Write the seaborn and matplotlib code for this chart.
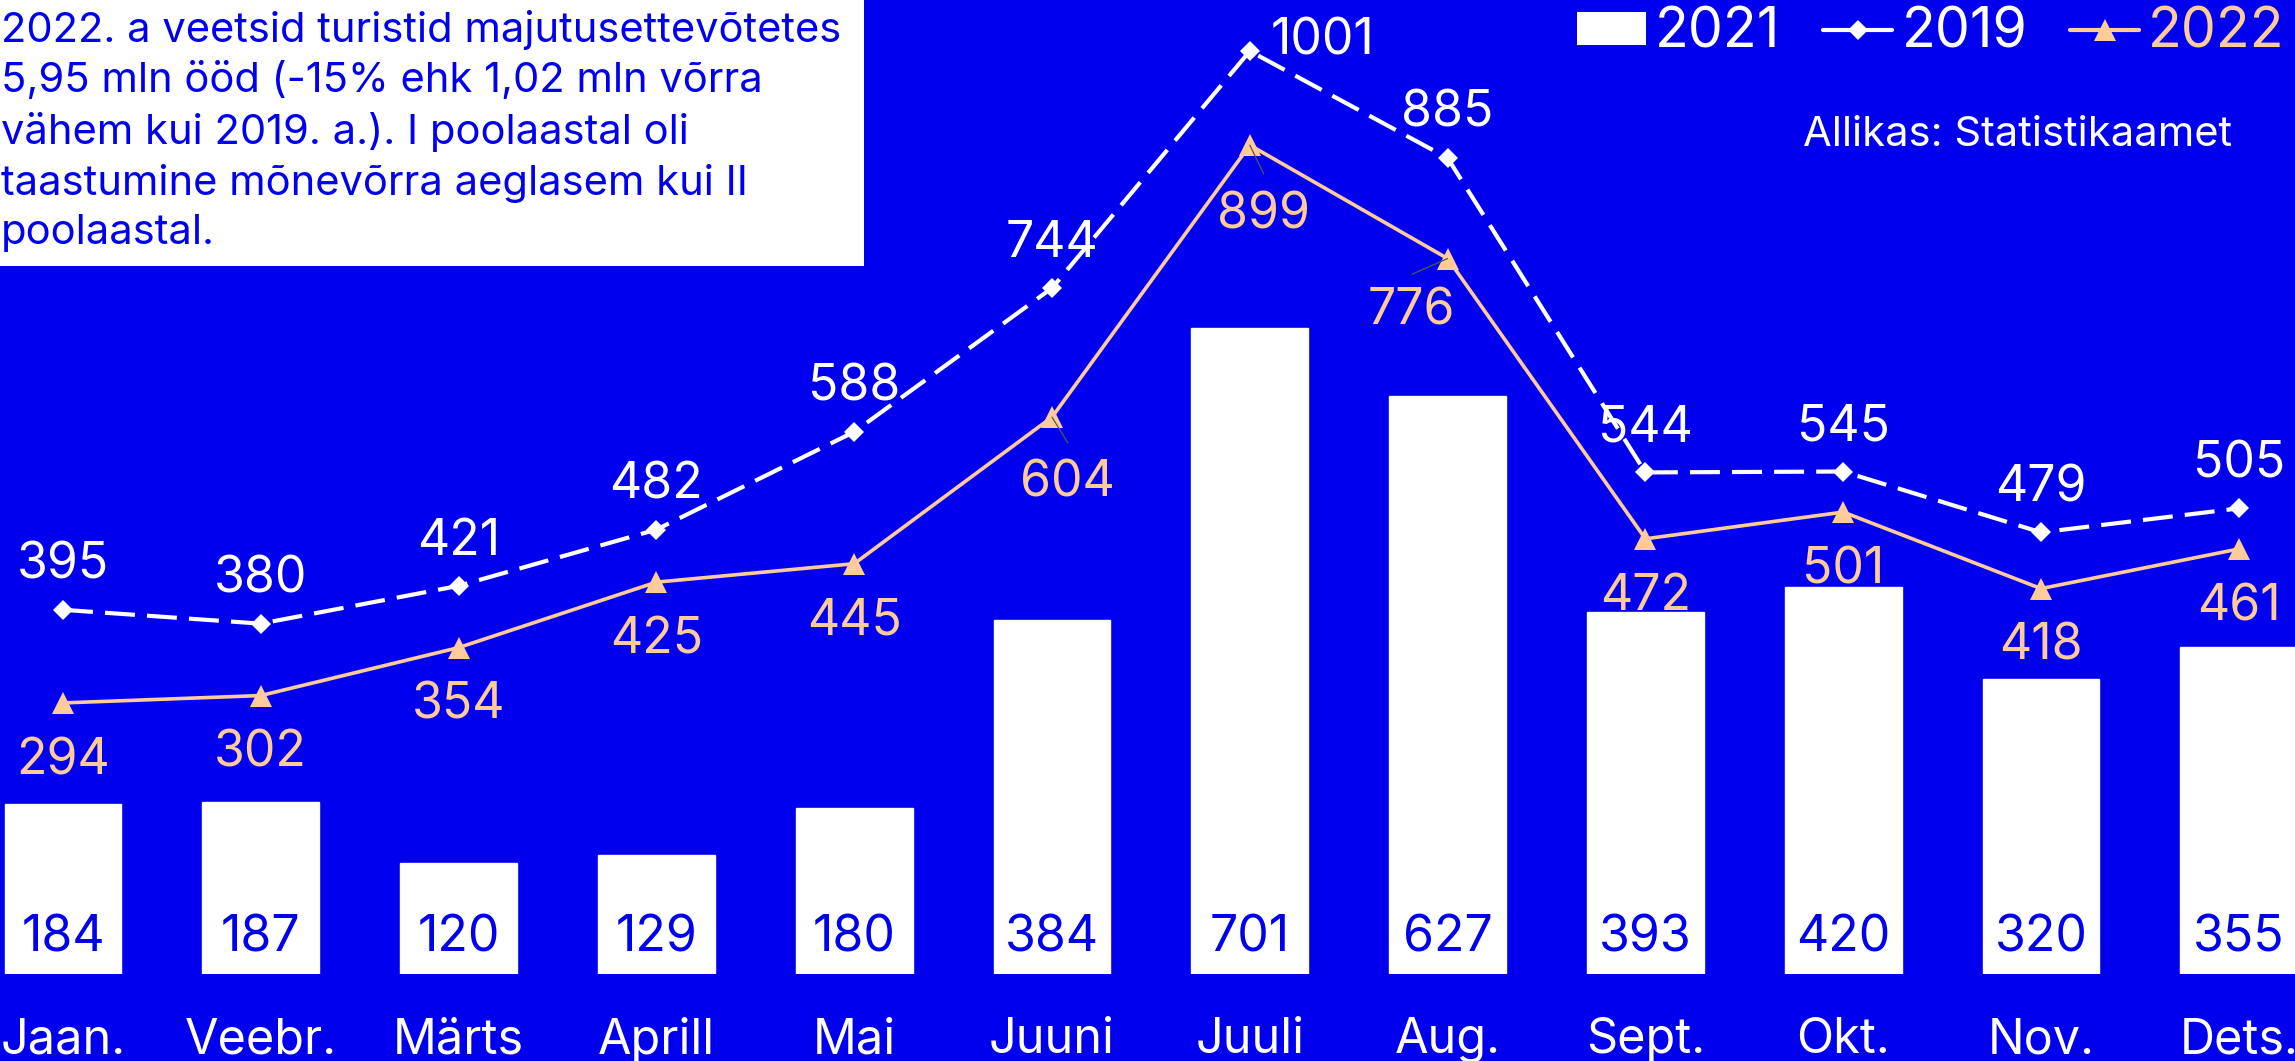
import matplotlib
matplotlib.use("Agg")
import matplotlib.pyplot as plt
import matplotlib.patches as mpatches
from matplotlib.lines import Line2D
import seaborn as sns
import numpy as np

months = ["Jaan.", "Veebr.", "Märts", "Aprill", "Mai", "Juuni",
          "Juuli", "Aug.", "Sept.", "Okt.", "Nov.", "Dets."]
v2021 = [184, 187, 120, 129, 180, 384, 701, 627, 393, 420, 320, 355]
v2019 = [395, 380, 421, 482, 588, 744, 1001, 885, 544, 545, 479, 505]
v2022 = [294, 302, 354, 425, 445, 604, 899, 776, 472, 501, 418, 461]

note = ("2022. a veetsid turistid majutusettevõtetes\n"
        "5,95 mln ööd (-15% ehk 1,02 mln võrra\n"
        "vähem kui 2019. a.). I poolaastal oli\n"
        "taastumine mõnevõrra aeglasem kui II\n"
        "poolaastal.")
source = "Allikas: Statistikaamet"

BLUE = "#0000ee"
PEACH = "#ffcc99"
FONT = ["Inter", "DejaVu Sans"]

sns.set_style("white")
plt.rcParams["font.family"] = FONT

W, H = 2295, 1061
fig = plt.figure(figsize=(W / 100, H / 100), dpi=100, facecolor=BLUE)
ax = fig.add_axes([0, (H - 974) / H, 1, 974 / H])
ax.set_facecolor(BLUE)

x = np.arange(len(months))

sns.barplot(x=months, y=v2021, color="white", saturation=1, width=0.59, ax=ax, zorder=1)
sns.lineplot(x=x, y=v2019, ax=ax, color="white", lw=3, linestyle=(0, (7.2, 2.9)),
             marker="D", markersize=10, markeredgewidth=0, sort=False, zorder=3)
sns.lineplot(x=x, y=v2022, ax=ax, color=PEACH, lw=2.6,
             marker="^", markersize=16, markeredgewidth=0, sort=False, zorder=3)

ax.set_xlim(-0.3185, 11.284)
ax.set_ylim(0, 974 / 0.922)
ax.set_yticks([])
ax.set_xlabel("")
ax.set_ylabel("")
for s in ax.spines.values():
    s.set_visible(False)
ax.tick_params(axis="x", length=0, pad=31, labelsize=35, labelcolor="white")

# digits sit a bit above the bbox centre, so nudge down
nudge = -6.5

# labels inside bars
for i, v in enumerate(v2021):
    ax.text(i, 45.5 + nudge, str(v), ha="center", va="center", fontsize=36, color=BLUE, zorder=4)

# 2019 labels above
for i, v in enumerate(v2019):
    dx, dy = (0.37, 17) if v == 1001 else (0, 55)
    ax.text(i + dx, v + dy + nudge, str(v), ha="center", va="center", fontsize=36,
            color="white", zorder=4)

# 2022 labels below
special = {6: (0.07, -69), 7: (-0.185, -50), 5: (0.08, -65)}
for i, v in enumerate(v2022):
    dx, dy = special.get(i, (0, -56))
    ax.text(i + dx, v + dy + nudge, str(v), ha="center", va="center", fontsize=36,
            color=PEACH, zorder=4)

# small leader lines
for (x0, y0), (x1, y1) in [((6, 899), (6.07, 868)), ((7, 776), (6.82, 759)), ((5, 604), (5.08, 576))]:
    ax.plot([x0, x1], [y0, y1], color="#4d5a4d", lw=0.9, zorder=4)

# note box
fig.add_artist(mpatches.Rectangle((0, 1 - 266 / H), 864 / W, 266 / H, transform=fig.transFigure,
                                  facecolor="white", edgecolor="none", zorder=5))
fig.text(1 / W, 1 - 10 / H, note, ha="left", va="top", fontsize=30, color=BLUE,
         linespacing=1.37, zorder=6)

fig.text(2232 / W, 1 - 135 / H, source, ha="right", va="center", fontsize=30, color="white")

handles = [mpatches.Patch(facecolor="white", edgecolor="none"),
           Line2D([], [], color="white", lw=3, marker="D", markersize=10, markeredgewidth=0),
           Line2D([], [], color=PEACH, lw=3, marker="^", markersize=16, markeredgewidth=0)]
fig.legend(handles, ["2021", "2019", "2022"], loc="upper right", bbox_to_anchor=(2285 / W, 1 - 7 / H),
           ncol=3, frameon=False, fontsize=40, labelcolor=["white", "white", PEACH],
           handlelength=1.25, handleheight=0.52, handletextpad=0.16, columnspacing=0.77,
           borderaxespad=0, borderpad=0)

fig.savefig("out.png", dpi=100, facecolor=BLUE)
